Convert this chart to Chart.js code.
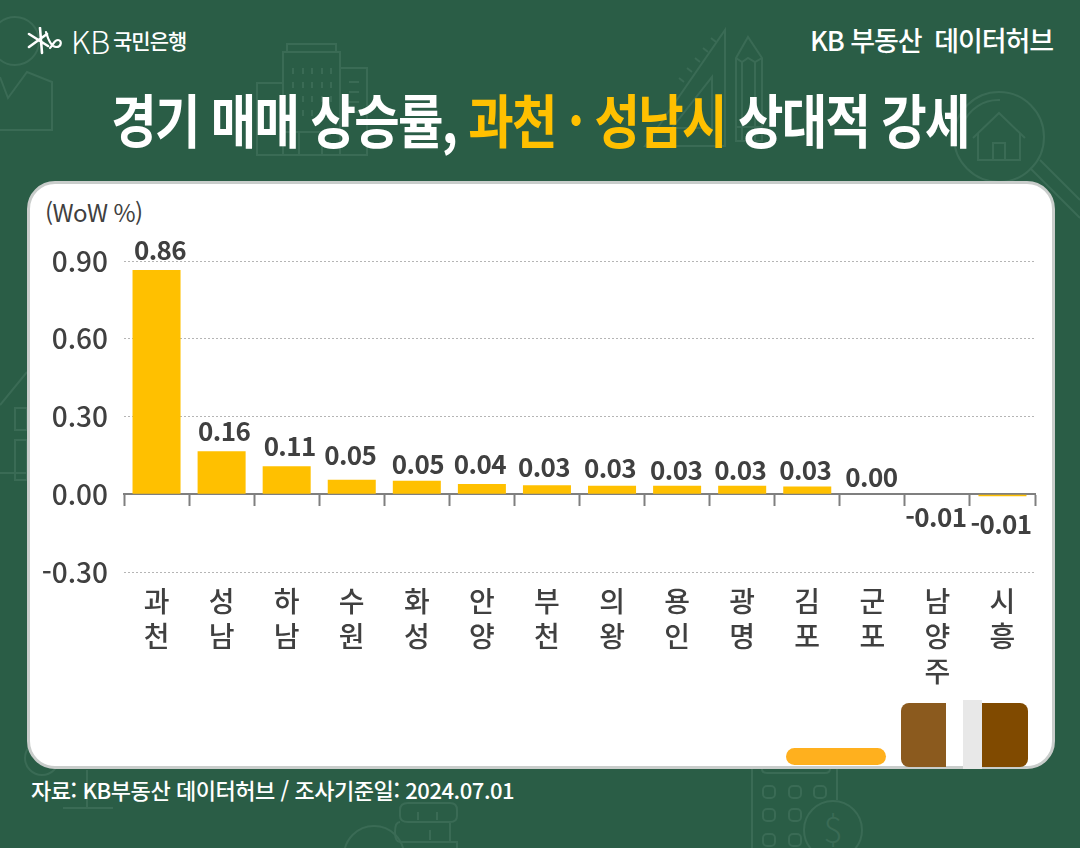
<!DOCTYPE html>
<html lang="ko">
<head>
<meta charset="utf-8">
<script src="https://cdn.jsdelivr.net/npm/chart.js@4"></script>
<style>
  html, body { margin: 0; padding: 0; }
  body { width: 1080px; height: 848px; position: relative; overflow: hidden; background: #2a5d46; font-family: "Noto Sans CJK KR", sans-serif; color: #fff; }
  .abs { position: absolute; white-space: nowrap; }
  #deco { position: absolute; left: 0; top: 0; }
  #card { position: absolute; left: 27px; top: 181px; width: 1022px; height: 582px; background: #fff; border: 3px solid #c9cdcb; border-radius: 28px; }
  #chart { position: absolute; left: 0; top: 0; }
  #title { left: 0; width: 1080px; top: 76px; text-align: center; font-size: 58px; font-weight: 700; line-height: 84px; letter-spacing: -2px; transform: scaleX(0.852); transform-origin: 540px 0; }
  #title span { color: #ffc000; }
</style>
</head>
<body>
<svg id="deco" width="1080" height="848" fill="none" stroke="#3a6b55" stroke-width="2">
  <circle cx="15" cy="41" r="24"/>
  <path d="M0 77L8 98L27 72L52 82V130H0"/>
  <path d="M287 52V44H336V52M283 155V52H340V155M283 83H257V155H367V68H340M283 132H340M299 155V132M322 155V132"/>
  <path d="M293 68v6M303 68v6M312 68v6M322 68v6M331 68v6M293 82v6M303 82v6M312 82v6M322 82v6M331 82v6M293 96v6M303 96v6M312 96v6M322 96v6M331 96v6M293 110v6M303 110v6M312 110v6M322 110v6M331 110v6M349 82h10M349 92h10M349 102h10M349 112h10"/>
  <path d="M725 30V146H645ZM712 77V128H672Z"/>
  <path d="M716 42l-5 -4M708 52l-5 -4M700 62l-5 -4M692 72l-5 -4M684 82l-5 -4"/>
  <path d="M736 141V58L748 37L762 58V141ZM736 58L742 62L748 58L755 62L762 58M742 62V141M755 62V141M736 127H762"/>
  <circle cx="999" cy="137" r="45"/>
  <path d="M973 138L999 113L1025 138M978 133V160H1020V133M993 160V143H1005V160M963 124A38 38 0 0 1 1000 100"/>
  <path d="M1030 168L1080 218M1040 160L1080 200"/>
  <path d="M0 405L27 372M15 408H27V430H15ZM15 440H27V480H15ZM0 473H27"/>
  <circle cx="42" cy="758" r="17"/>
  <path d="M87 770V808M63 808H113"/>
  <path d="M408 803H450Q457 803 457 810V816Q457 822 450 822H408Q400 822 400 816V810Q400 803 408 803ZM400 822Q395 822 395 832Q395 842 400 842H450V822M402 842H457V860M418 812v8M437 812v8M430 830v10"/>
  <circle cx="374" cy="856" r="30"/>
  <path d="M752 769V860M837 769V800"/>
  <path d="M762 769Q762 773 767 773H825Q830 773 830 769"/>
  <rect x="763" y="786" width="12" height="12" rx="4"/><rect x="789" y="786" width="12" height="12" rx="4"/><rect x="814" y="786" width="12" height="12" rx="4"/>
  <rect x="763" y="809" width="12" height="12" rx="4"/><rect x="789" y="809" width="12" height="12" rx="4"/>
  <rect x="763" y="834" width="12" height="12" rx="4"/><rect x="789" y="834" width="12" height="12" rx="4"/>
  <circle cx="833" cy="830" r="29"/>
  <text x="833" y="843" text-anchor="middle" font-size="36" font-weight="300" fill="#3a6b55" stroke="none" font-family="Noto Sans CJK KR">$</text>
</svg>

<div id="card"></div>

<svg class="abs" style="left:27px;top:27px" width="38" height="30" fill="none" stroke="#fff" stroke-linecap="round">
  <path stroke-width="2.6" d="M2 7L21 19M2 20L20 7M13 1L15 26"/>
  <path stroke-width="2.2" d="M19 5C21 12 24 20 29 20C35 20 35 13 31 13C27 13 27 17 23 21"/>
</svg>
<div class="abs" style="left:71px;top:21px;font-size:31px;font-weight:300;line-height:40px;letter-spacing:0">KB</div>
<div class="abs" style="left:113px;top:24px;font-size:21px;font-weight:500;line-height:32px;letter-spacing:-1px">국민은행</div>
<div class="abs" style="right:27px;top:20px;font-size:27px;font-weight:500;line-height:40px;letter-spacing:-1.1px">KB 부동산&nbsp; 데이터허브</div>
<div class="abs" id="title">경기 매매 상승률, <span>과천 · 성남시</span> 상대적 강세</div>
<div class="abs" style="left:45px;top:194px;font-size:24px;color:#404040;line-height:36px;letter-spacing:-0.6px">(WoW %)</div>
<div class="abs" style="left:31px;top:772px;font-size:22px;font-weight:500;line-height:34px;letter-spacing:-0.45px">자료: KB부동산 데이터허브 / 조사기준일: 2024.07.01</div>

<canvas id="chart" width="1080" height="848"></canvas>

<!-- stray blocks that sit in the bottom corner of the source image -->
<div class="abs" style="left:786px;top:748px;width:100px;height:17px;border-radius:9px;background:#ffb01e"></div>
<div class="abs" style="left:901px;top:703px;width:45px;height:64px;border-radius:8px 0 0 8px;background:#8b5a1e"></div>
<div class="abs" style="left:963px;top:700px;width:19px;height:69px;background:#e8e8e8"></div>
<div class="abs" style="left:982px;top:703px;width:46px;height:64px;border-radius:0 8px 8px 0;background:#804a00"></div>

<script>
const regions = ['과천', '성남', '하남', '수원', '화성', '안양', '부천', '의왕', '용인', '광명', '김포', '군포', '남양주', '시흥'];
const barValues = [0.865, 0.166, 0.108, 0.056, 0.052, 0.04, 0.035, 0.033, 0.033, 0.033, 0.03, 0, 0, -0.008];
const valueLabels = ['0.86', '0.16', '0.11', '0.05', '0.05', '0.04', '0.03', '0.03', '0.03', '0.03', '0.03', '0.00', '-0.01', '-0.01'];
const yTicks = [-0.3, 0, 0.3, 0.6, 0.9];

// the labels in the source were placed by hand, so each has its own shift
const labelShiftX = [3.5, 2.5, 3, -1.5, 1, -2, -3, -2, -1, -2, -2, -1, -1.5, -1.5];
const labelShiftY = [-20, -20, -20, -25, -17, -20, -18, -18, -16, -16, -16, -17, 23, 28];

const textColor = '#404040';
const fontFamily = '"Noto Sans CJK KR"';

const valueLabelPlugin = {
  id: 'valueLabels',
  afterDatasetsDraw(chart) {
    const c = chart.ctx;
    c.save();
    c.font = '700 26px ' + fontFamily;
    c.fillStyle = textColor;
    c.textAlign = 'center';
    c.textBaseline = 'middle';
    c.letterSpacing = '-0.6px';
    chart.getDatasetMeta(0).data.forEach((bar, i) => {
      c.fillText(valueLabels[i], bar.x + labelShiftX[i], bar.y + labelShiftY[i]);
    });
    c.restore();
  }
};

new Chart(document.getElementById('chart'), {
  type: 'bar',
  data: {
    labels: regions,
    datasets: [{
      data: barValues,
      backgroundColor: '#ffc000',
      barPercentage: 1,
      categoryPercentage: 0.738
    }]
  },
  options: {
    responsive: false,
    animation: false,
    layout: { padding: { left: 0, right: 45, top: 261, bottom: 276 } },
    plugins: { legend: { display: false }, tooltip: { enabled: false } },
    scales: {
      x: {
        position: { y: 0 },
        afterFit(scale) { scale.paddingLeft = 0; scale.paddingRight = 0; },
        grid: { drawOnChartArea: false, tickLength: 11, tickColor: '#7f7f7f', tickWidth: 2 },
        border: { color: '#7f7f7f', width: 2 },
        ticks: {
          padding: 79,
          color: textColor,
          maxRotation: 0,
          autoSkip: false,
          font: { family: fontFamily, size: 28, weight: '500', lineHeight: 1.25 },
          callback(value) { return Array.from(this.getLabelForValue(value)); }
        }
      },
      y: {
        min: -0.3,
        max: 0.9,
        afterFit(scale) { scale.width = 124; },
        afterBuildTicks(scale) { scale.ticks = yTicks.map(v => ({ value: v })); },
        grid: {
          drawTicks: false,
          color: ctx => ctx.tick.value === 0 ? 'rgba(0,0,0,0)' : '#b5b5b5'
        },
        border: { display: false, dash: [2, 2] },
        ticks: {
          padding: 16,
          color: textColor,
          font: { family: fontFamily, size: 28, weight: '500' },
          callback: v => v.toFixed(2)
        }
      }
    }
  },
  plugins: [valueLabelPlugin]
});
</script>
</body>
</html>
